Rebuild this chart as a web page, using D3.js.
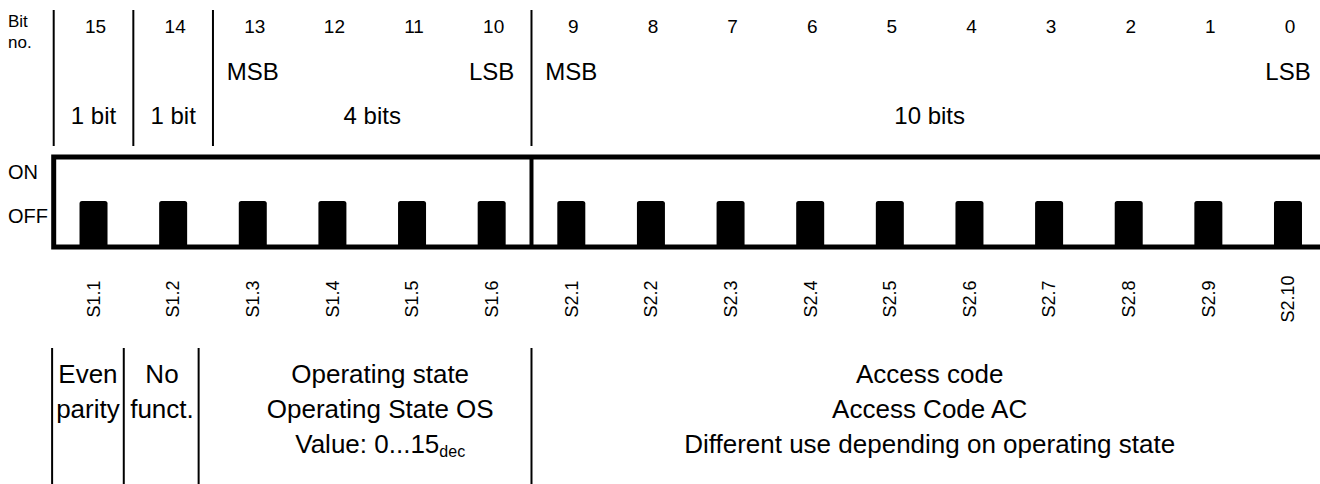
<!DOCTYPE html>
<html>
<head>
<meta charset="utf-8">
<script src="https://cdn.jsdelivr.net/npm/d3@7"></script>
<style>
  body { margin: 0; background: #fff; }
  text { font-family: 'Liberation Sans', Arial, sans-serif; fill: #000; }
</style>
</head>
<body>
<div id="chart"></div>
<script>
// switch positions, left to right
const bitNumbers = [15, 14, 13, 12, 11, 10, 9, 8, 7, 6, 5, 4, 3, 2, 1, 0];
const switchLabels = ['S1.1', 'S1.2', 'S1.3', 'S1.4', 'S1.5', 'S1.6',
  'S2.1', 'S2.2', 'S2.3', 'S2.4', 'S2.5', 'S2.6', 'S2.7', 'S2.8', 'S2.9', 'S2.10'];
const switchStates = ['OFF', 'OFF', 'OFF', 'OFF', 'OFF', 'OFF', 'OFF', 'OFF',
  'OFF', 'OFF', 'OFF', 'OFF', 'OFF', 'OFF', 'OFF', 'OFF'];
const stateLevels = ['ON', 'OFF'];

// bit fields (first and last bit of each)
const fieldFirst = [15, 14, 13, 9];
const fieldLast = [15, 14, 10, 0];
const fieldSizes = ['1 bit', '1 bit', '4 bits', '10 bits'];
const msbBits = [13, 9];
const lsbBits = [10, 0];
const blockEnds = [10]; // thick divider in the switch block after this bit

// descriptions under the switches; column edges and text centres in bit units
const descEdges = [15.52, 14.62, 13.68, 9.5];
const descCenters = [15.07, 14.14, 11.4, 4.5];
const descLine1 = ['Even', 'No', 'Operating state', 'Access code'];
const descLine2 = ['parity', 'funct.', 'Operating State OS', 'Access Code AC'];
const descLine3 = ['', '', 'Value: 0...15', 'Different use depending on operating state'];
const descSub = ['', '', 'dec', ''];

const W = 1320, H = 484;

const svg = d3.select('#chart').append('svg')
    .attr('width', W)
    .attr('height', H);

const x = d3.scaleBand()
    .domain(bitNumbers)
    .range([53.7, 1327.8]);

// same axis in continuous bit units, for table edges
const xb = d3.scaleLinear()
    .domain([15.5, -0.5])
    .range(x.range());

const y = d3.scaleBand()
    .domain(stateLevels)
    .range([157, 247]);

const left = (b) => x(b);
const right = (b) => x(b) + x.bandwidth();
const mid = (b) => x(b) + x.bandwidth() / 2;

// ---- header ----
svg.append('text').attr('x', 8).attr('y', 27).style('font-size', '17px').text('Bit');
svg.append('text').attr('x', 8).attr('y', 48).style('font-size', '17px').text('no.');

svg.selectAll('text.bitno')
    .data(bitNumbers)
    .enter().append('text')
    .attr('class', 'bitno')
    .attr('x', (d) => mid(d) + 2)
    .attr('y', 33)
    .attr('text-anchor', 'middle')
    .style('font-size', '19px')
    .text((d) => d);

svg.selectAll('text.msb')
    .data(msbBits)
    .enter().append('text')
    .attr('x', (d) => mid(d))
    .attr('y', 80)
    .attr('text-anchor', 'middle')
    .style('font-size', '24px')
    .text('MSB');

svg.selectAll('text.lsb')
    .data(lsbBits)
    .enter().append('text')
    .attr('x', (d) => mid(d))
    .attr('y', 80)
    .attr('text-anchor', 'middle')
    .style('font-size', '24px')
    .text('LSB');

svg.selectAll('text.size')
    .data(fieldSizes)
    .enter().append('text')
    .attr('x', (d, i) => (left(fieldFirst[i]) + right(fieldLast[i])) / 2)
    .attr('y', 124)
    .attr('text-anchor', 'middle')
    .style('font-size', '24px')
    .text((d) => d);

svg.selectAll('line.hdiv')
    .data(fieldFirst)
    .enter().append('line')
    .attr('x1', (d) => left(d))
    .attr('x2', (d) => left(d))
    .attr('y1', 10)
    .attr('y2', 146)
    .attr('stroke', '#000')
    .attr('stroke-width', 2);

// ---- switch block ----
svg.append('text').attr('x', 8).attr('y', 179).style('font-size', '20px').text('ON');
svg.append('text').attr('x', 8).attr('y', 223).style('font-size', '20px').text('OFF');

const sw = 28;
const r = 2.5;
svg.selectAll('path.switch')
    .data(switchStates)
    .enter().append('path')
    .attr('class', 'switch')
    .attr('fill', '#000')
    .attr('d', (d, i) => {
      const x0 = mid(bitNumbers[i]) - sw / 2;
      const y0 = y(d) - 1;
      const y1 = y(d) + y.bandwidth();
      return 'M' + x0 + ',' + y1 + 'V' + (y0 + r) +
        'Q' + x0 + ',' + y0 + ' ' + (x0 + r) + ',' + y0 +
        'H' + (x0 + sw - r) +
        'Q' + (x0 + sw) + ',' + y0 + ' ' + (x0 + sw) + ',' + (y0 + r) +
        'V' + y1 + 'Z';
    });

svg.append('rect')
    .attr('x', x.range()[0])
    .attr('y', y.range()[0])
    .attr('width', x.range()[1] - x.range()[0])
    .attr('height', y.range()[1] - y.range()[0])
    .attr('fill', 'none')
    .attr('stroke', '#000')
    .attr('stroke-width', 5);

svg.selectAll('line.block')
    .data(blockEnds)
    .enter().append('line')
    .attr('x1', (d) => right(d))
    .attr('x2', (d) => right(d))
    .attr('y1', y.range()[0])
    .attr('y2', y.range()[1])
    .attr('stroke', '#000')
    .attr('stroke-width', 4);

svg.selectAll('text.swlabel')
    .data(switchLabels)
    .enter().append('text')
    .attr('transform', (d, i) => 'translate(' + mid(bitNumbers[i]) + ',299) rotate(-90)')
    .attr('text-anchor', 'middle')
    .attr('dy', '0.35em')
    .style('font-size', '18px')
    .text((d) => d);

// ---- descriptions ----
svg.selectAll('line.bdiv')
    .data(descEdges)
    .enter().append('line')
    .attr('x1', (d) => xb(d))
    .attr('x2', (d) => xb(d))
    .attr('y1', 348)
    .attr('y2', H)
    .attr('stroke', '#000')
    .attr('stroke-width', 2);

const descX = (i) => xb(descCenters[i]);
[descLine1, descLine2].forEach((lines, k) => {
  svg.selectAll('text.desc' + k)
      .data(lines)
      .enter().append('text')
      .attr('x', (d, i) => descX(i))
      .attr('y', 383 + k * 35)
      .attr('text-anchor', 'middle')
      .style('font-size', '26px')
      .text((d) => d);
});

const line3 = svg.selectAll('text.desc2')
    .data(descLine3)
    .enter().append('text')
    .attr('x', (d, i) => descX(i))
    .attr('y', 453)
    .attr('text-anchor', 'middle')
    .style('font-size', '26px');
line3.append('tspan').text((d) => d);
line3.append('tspan')
    .attr('dy', 4)
    .style('font-size', '16px')
    .text((d, i) => descSub[i]);
</script>
</body>
</html>
